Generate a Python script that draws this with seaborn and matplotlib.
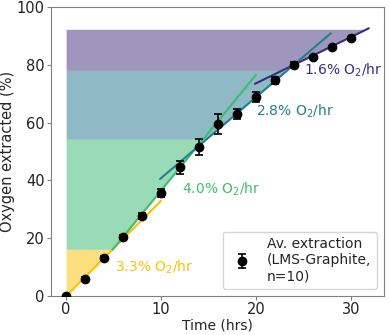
import numpy as np
import pandas as pd
import matplotlib
matplotlib.use("Agg")
import matplotlib.pyplot as plt
import seaborn as sns

# ---- data ----
time_hrs = [0, 2, 4, 6, 8, 10, 12, 14, 16, 18, 20, 22, 24, 26, 28, 30]
extraction = [0.0, 5.9, 13.1, 20.4, 27.7, 35.6, 44.6, 51.6, 59.5, 63.0,
              68.9, 74.7, 80.0, 82.7, 86.2, 89.3]
extraction_err = [0.3, 0.6, 0.7, 0.8, 0.9, 1.3, 2.3, 2.9, 3.5, 1.8,
                  1.7, 1.2, 0.9, 0.4, 0.3, 0.3]

fit_labels = ["3.3% O$_2$/hr", "4.0% O$_2$/hr", "2.8% O$_2$/hr", "1.6% O$_2$/hr"]
fit_rates = [3.3, 4.0, 2.8, 1.6]
fit_intercepts = [0.0, -3.5, 12.8, 41.6]
fit_x_start = [0.0, 4.9, 9.9, 19.9]
fit_x_end = [10.0, 20.0, 27.9, 31.9]
band_bottom = [0.0, 16.2, 54.3, 78.1]
band_top = [16.2, 54.3, 78.1, 92.3]
label_x = [5.1, 12.2, 20.0, 25.1]
label_y = [9.9, 37.0, 63.8, 78.2]

line_colors = ["#fbc100", "#3cbe70", "#21808f", "#3d2b82"]
fill_colors = ["#fbc100", "#37b971", "#1f758d", "#3f2f7b"]

sns.set_style("ticks")
plt.rcParams["font.family"] = ["DejaVu Sans"]
plt.rcParams["axes.edgecolor"] = "#808080"

fig = plt.figure(figsize=(3.89, 3.35), dpi=100)
ax = fig.add_axes([0.131, 0.116, 0.856, 0.863])

# shaded bands
for i in range(4):
    yb = np.array([band_bottom[i], band_top[i]])
    xr = (yb - fit_intercepts[i]) / fit_rates[i]
    ax.fill_betweenx(yb, 0, xr, color=fill_colors[i], alpha=0.5, linewidth=0, zorder=1)

# fit lines
for i in range(4):
    xs = np.array([fit_x_start[i], fit_x_end[i]])
    df = pd.DataFrame({"x": xs, "y": fit_rates[i] * xs + fit_intercepts[i]})
    sns.lineplot(data=df, x="x", y="y", ax=ax, color=line_colors[i], linewidth=1.5, zorder=2)
    ax.text(label_x[i], label_y[i], fit_labels[i], color=line_colors[i], fontsize=10,
            ha="left", va="center", zorder=4)

# data points
ax.errorbar(time_hrs, extraction, yerr=extraction_err, fmt="o", color="black",
            markersize=6, capsize=3, elinewidth=1.2, capthick=1.2, zorder=3,
            label="Av. extraction\n(LMS-Graphite,\nn=10)")

ax.set_xlim(-1.6, 33.5)
ax.set_ylim(0, 100)
ax.set_xticks([0, 10, 20, 30])
ax.set_yticks([0, 20, 40, 60, 80, 100])
ax.tick_params(labelsize=10.5, colors="#222222", length=3, pad=1.5)
ax.tick_params(axis="both", color="#808080")
ax.set_xlabel("Time (hrs)", fontsize=10, labelpad=1)
ax.set_ylabel("Oxygen extracted (%)", fontsize=10.5, labelpad=1)
ax.legend(loc="lower right", fontsize=10, frameon=True)

fig.savefig("out.png", dpi=100)
